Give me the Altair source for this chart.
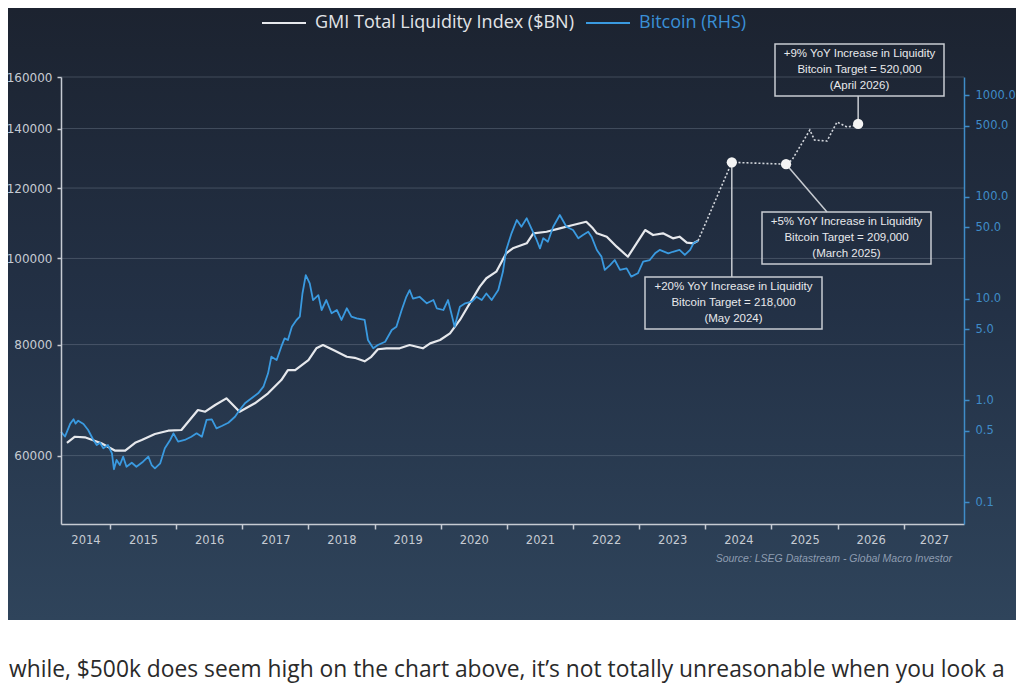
import altair as alt
import pandas as pd

# ---------------- data ----------------
series_names = ["GMI Total Liquidity Index ($BN)", "Bitcoin (RHS)"]

gmi_dates = [
    2014.35, 2014.47, 2014.62, 2014.87, 2015.08, 2015.23, 2015.38, 2015.48, 2015.68, 2015.88,
    2016.08, 2016.33, 2016.44, 2016.59, 2016.76, 2016.96, 2017.19, 2017.39, 2017.59, 2017.69,
    2017.80, 2018.00, 2018.12, 2018.22, 2018.40, 2018.58, 2018.70, 2018.85, 2018.95, 2019.05,
    2019.18, 2019.38, 2019.53, 2019.73, 2019.84, 2019.99, 2020.14, 2020.29, 2020.44, 2020.59,
    2020.69, 2020.84, 2020.99, 2021.09, 2021.30, 2021.40, 2021.60, 2021.80, 2022.00, 2022.20,
    2022.30, 2022.36, 2022.51, 2022.66, 2022.83, 2022.96, 2023.09, 2023.21, 2023.36, 2023.51,
    2023.61, 2023.72, 2023.82, 2023.89,
]
gmi_values = [
    62030, 63010, 62910, 61940, 60770, 60770, 62030, 62480, 63460, 64000,
    64120, 67520, 67230, 68410, 69600, 67230, 68710, 70510, 72980, 74890,
    74890, 76860, 79230, 79910, 78740, 77520, 77300, 76600, 77500, 79030,
    79230, 79230, 79910, 79230, 80250, 80950, 82370, 85270, 89030, 92960,
    94990, 96630, 101340, 102660, 104000, 106720, 107160, 108110, 109050, 109970,
    108110, 106720, 105790, 103090, 100450, 104000, 107630, 106250, 106720, 105350,
    105790, 104160, 104000, 104700,
]

btc_dates = [
    2014.26, 2014.32, 2014.40, 2014.45, 2014.48, 2014.52, 2014.60, 2014.67, 2014.75, 2014.80,
    2014.85, 2014.90, 2014.97, 2015.03, 2015.06, 2015.10, 2015.15, 2015.20, 2015.25, 2015.33,
    2015.40, 2015.50, 2015.58, 2015.63, 2015.68, 2015.76, 2015.83, 2015.91, 2015.96, 2016.03,
    2016.13, 2016.23, 2016.31, 2016.39, 2016.46, 2016.54, 2016.61, 2016.69, 2016.79, 2016.89,
    2016.96, 2017.04, 2017.14, 2017.24, 2017.32, 2017.39, 2017.44, 2017.52, 2017.59, 2017.64,
    2017.69, 2017.75, 2017.82, 2017.87, 2017.91, 2017.96, 2018.02, 2018.07, 2018.15, 2018.20,
    2018.27, 2018.35, 2018.43, 2018.50, 2018.58, 2018.65, 2018.73, 2018.85, 2018.90, 2018.98,
    2019.05, 2019.16, 2019.26, 2019.33, 2019.41, 2019.48, 2019.53, 2019.58, 2019.68, 2019.79,
    2019.89, 2019.94, 2020.04, 2020.11, 2020.16, 2020.21, 2020.29, 2020.37, 2020.47, 2020.54,
    2020.62, 2020.69, 2020.77, 2020.87, 2020.94, 2020.99, 2021.07, 2021.15, 2021.22, 2021.30,
    2021.37, 2021.45, 2021.50, 2021.55, 2021.62, 2021.70, 2021.80, 2021.90, 2022.00, 2022.08,
    2022.15, 2022.23, 2022.28, 2022.36, 2022.43, 2022.48, 2022.56, 2022.63, 2022.71, 2022.81,
    2022.88, 2022.98, 2023.06, 2023.16, 2023.24, 2023.31, 2023.44, 2023.51, 2023.61, 2023.69,
    2023.77, 2023.82, 2023.89,
]
# Bitcoin price in $ thousands (right-hand scale)
btc_values = [
    0.49, 0.44, 0.59, 0.65, 0.59, 0.63, 0.585, 0.51, 0.407, 0.363,
    0.383, 0.337, 0.363, 0.301, 0.21, 0.259, 0.231, 0.279, 0.222, 0.243,
    0.222, 0.249, 0.279, 0.231, 0.214, 0.24, 0.337, 0.407, 0.473, 0.392,
    0.407, 0.438, 0.473, 0.438, 0.64, 0.65, 0.53, 0.558, 0.601, 0.689,
    0.802, 0.933, 1.045, 1.17, 1.36, 1.84, 2.68, 2.49, 3.36, 4.06,
    3.91, 5.28, 6.15, 6.63, 11.2, 17.0, 14.1, 9.66, 10.8, 7.71,
    9.66, 7.16, 7.71, 6.15, 8.02, 6.63, 6.38, 6.15, 3.91, 3.24,
    3.49, 3.76, 4.9, 5.28, 7.71, 10.4, 12.1, 10.0, 10.4, 8.97,
    9.66, 8.02, 7.71, 9.66, 7.16, 5.28, 8.3, 8.97, 9.31, 10.4,
    9.66, 11.2, 9.66, 12.1, 18.3, 30.0, 43.7, 59.1, 50.8, 61.4,
    49.0, 37.6, 31.1, 39.1, 36.1, 50.8, 66.2, 50.8, 47.1, 39.1,
    42.1, 45.4, 40.5, 30.0, 25.8, 19.1, 21.3, 23.9, 19.1, 19.8,
    16.4, 17.7, 23.0, 23.9, 27.8, 30.0, 27.8, 28.8, 30.0, 26.8,
    30.0, 34.9, 37.0,
]

proj_dates = [2023.89, 2024.40, 2025.22, 2025.31, 2025.58, 2025.65, 2025.84, 2025.99, 2026.14, 2026.23, 2026.31]
proj_values = [37.0, 218, 209, 230, 453, 361, 353, 543, 485, 495, 520]

target_dates = [2024.40, 2025.22, 2026.31]
target_values = [218, 209, 520]
target_notes = [
    ["+20% YoY Increase in Liquidity", "Bitcoin Target = 218,000", "(May 2024)"],
    ["+5% YoY Increase in Liquidity", "Bitcoin Target = 209,000", "(March 2025)"],
    ["+9% YoY Increase in Liquidity", "Bitcoin Target = 520,000", "(April 2026)"],
]

gmi_ticks = [60000, 80000, 100000, 120000, 140000, 160000]
btc_ticks = [0.1, 0.5, 1, 5, 10, 50, 100, 500, 1000]
year_ticks = list(range(2015, 2028))
year_labels = list(range(2014, 2028))

source_text = "Source: LSEG Datastream - Global Macro Investor"
article_text = "while, $500k does seem high on the chart above, it\u2019s not totally unreasonable when you look a"

# ---------------- layout / style ----------------
W, H = 903, 447
X_DOMAIN = [2014.26, 2027.91]
GMI_DOMAIN = [50260, 160000]
BTC_DOMAIN = [0.0608, 1503]

AX_GRAY = "#c6cbd3"
BTC_LINE = "#3a9ae0"
BTC_AXIS = "#3f8cc8"
WHITE_LINE = "#e6e8ec"
NOTE_GRAY = "#c8ccd2"

year_label_pos = [(max(y, X_DOMAIN[0]) + min(y + 1, X_DOMAIN[1])) / 2 for y in year_labels]

# annotation boxes in plot pixels (x0, y0, x1, y1), connector end on the box
box_rects = [(584, 200, 761, 252), (701, 135, 870, 187), (714, -33, 883, 19)]
box_links = [(None, 200), (766, 135), (None, 19)]

x_scale = alt.Scale(domain=X_DOMAIN, nice=False, zero=False)
gmi_scale = alt.Scale(type="log", domain=GMI_DOMAIN, nice=False)
btc_scale = alt.Scale(type="log", domain=BTC_DOMAIN, nice=False)

one = alt.Data(values=[{}])

gmi_df = pd.DataFrame({"date": gmi_dates, "value": gmi_values, "series": series_names[0]})
btc_df = pd.DataFrame({"date": btc_dates, "value": btc_values, "series": series_names[1]})
proj_df = pd.DataFrame({"date": proj_dates, "value": proj_values})
tgt_df = pd.DataFrame({"date": target_dates, "value": target_values})
grid_df = pd.DataFrame({"v": gmi_ticks})

# background gradient
bg = alt.Chart(one).mark_rect(
    fill=alt.LinearGradient(
        gradient="linear",
        stops=[
            alt.GradientStop(color="#1c2330", offset=0),
            alt.GradientStop(color="#233146", offset=0.5),
            alt.GradientStop(color="#2f445b", offset=1),
        ],
        x1=0, x2=0, y1=0, y2=1,
    )
).encode(x=alt.value(-53), x2=alt.value(W + 52), y=alt.value(-69), y2=alt.value(543))

grid = alt.Chart(grid_df).mark_rule(color="#8893a3", opacity=0.35, strokeWidth=1).encode(
    y=alt.Y("v:Q", scale=gmi_scale, axis=None)
)

x_tick_axis = alt.Axis(
    orient="bottom", values=year_ticks, labels=False, ticks=True, tickSize=5, tickWidth=1.5,
    tickColor=AX_GRAY, domainColor=AX_GRAY, domainWidth=1.5, grid=False, title=None, zindex=1,
)
x_label_axis = alt.Axis(
    orient="bottom", values=year_label_pos, labelExpr="'' + floor(datum.value)", ticks=False,
    tickSize=0, domain=False, grid=False, title=None, labelPadding=10, labelFlush=False,
    labelOverlap=False, labelFont="DejaVu Sans", labelFontSize=11.5, labelColor=AX_GRAY, zindex=1,
)
gmi_axis = alt.Axis(
    orient="left", values=gmi_ticks, format="d", tickSize=4, tickWidth=1.5, tickColor=AX_GRAY,
    domainColor=AX_GRAY, domainWidth=1.5, labelPadding=5, labelFont="DejaVu Sans",
    labelFontSize=12, labelColor=AX_GRAY, labelOverlap=False, labelFlush=False, grid=False,
    title=None, zindex=1,
)
btc_axis = alt.Axis(
    orient="right", values=btc_ticks, format=".1f", tickSize=5, tickWidth=1.5, tickColor=BTC_AXIS,
    domainColor=BTC_AXIS, domainWidth=1.5, labelPadding=6, labelFont="DejaVu Sans",
    labelFontSize=11.5, labelColor=BTC_AXIS, labelOverlap=False, labelFlush=False, grid=False,
    title=None, zindex=1,
)

legend_common = dict(
    orient="none", title=None, symbolType="stroke", symbolSize=1936, symbolStrokeWidth=2,
    labelFont="Open Sans", labelFontSize=18, labelOffset=8, labelLimit=600, padding=0, zindex=1,
)

gmi_line = alt.Chart(gmi_df).mark_line(strokeWidth=2.2, strokeJoin="round").encode(
    x=alt.X("date:Q", scale=x_scale, axis=x_tick_axis),
    y=alt.Y("value:Q", scale=gmi_scale, axis=gmi_axis),
    color=alt.Color(
        "series:N", scale=alt.Scale(domain=[series_names[0]], range=[WHITE_LINE]),
        legend=alt.Legend(legendX=200, legendY=-77, labelColor="#e2e4e8", **legend_common),
    ),
)

btc_line = alt.Chart(btc_df).mark_line(strokeWidth=1.8, strokeJoin="round").encode(
    x=alt.X("date:Q", scale=x_scale, axis=x_label_axis),
    y=alt.Y("value:Q", scale=btc_scale, axis=btc_axis),
    stroke=alt.Stroke(
        "series:N", scale=alt.Scale(domain=[series_names[1]], range=[BTC_LINE]),
        legend=alt.Legend(legendX=524, legendY=-77, labelColor="#3a8fd6", **legend_common),
    ),
)

proj_line = alt.Chart(proj_df).mark_line(color="#d2d6dc", strokeWidth=1.6, strokeDash=[2, 2]).encode(
    x=alt.X("date:Q", scale=x_scale, axis=None),
    y=alt.Y("value:Q", scale=btc_scale, axis=None),
)

layers = [bg, grid, gmi_line, btc_line, proj_line]

for i in range(3):
    d = pd.DataFrame({"date": [target_dates[i]], "value": [target_values[i]]})
    px, py = box_links[i]
    enc = dict(
        x=alt.X("date:Q", scale=x_scale, axis=None),
        y=alt.Y("value:Q", scale=btc_scale, axis=None),
        y2=alt.value(py),
    )
    if px is not None:
        enc["x2"] = alt.value(px)
    layers.append(alt.Chart(d).mark_rule(color=NOTE_GRAY, strokeWidth=1.5).encode(**enc))

dots = alt.Chart(tgt_df).mark_circle(size=105, color="#f4f4f4", opacity=1).encode(
    x=alt.X("date:Q", scale=x_scale, axis=None),
    y=alt.Y("value:Q", scale=btc_scale, axis=None),
)
layers.append(dots)

for i in range(3):
    x0, y0, x1, y1 = box_rects[i]
    layers.append(
        alt.Chart(one).mark_rect(fill="#000000", fillOpacity=0, stroke=NOTE_GRAY, strokeWidth=1.5).encode(
            x=alt.value(x0), x2=alt.value(x1), y=alt.value(y0), y2=alt.value(y1)
        )
    )
    cx = (x0 + x1) / 2
    for j, line in enumerate(target_notes[i]):
        layers.append(
            alt.Chart(one).mark_text(
                text=line, align="center", baseline="middle", font="Liberation Sans",
                fontSize=11.5, color="#e8e9ec",
            ).encode(x=alt.value(cx), y=alt.value(y0 + 10 + 16 * j))
        )

layers.append(
    alt.Chart(one).mark_text(
        text=source_text, align="right", baseline="middle", font="Liberation Sans",
        fontStyle="italic", fontSize=10.5, color="#8e9db1",
    ).encode(x=alt.value(891), y=alt.value(482))
)
layers.append(
    alt.Chart(one).mark_text(
        text=article_text, align="left", baseline="alphabetic", font="Open Sans",
        fontSize=22.8, color="#2a2a2a",
    ).encode(x=alt.value(-52), y=alt.value(600))
)

chart = (
    alt.layer(*layers)
    .resolve_scale(y="independent")
    .resolve_axis(x="independent", y="independent")
    .properties(
        width=W, height=H,
        autosize=alt.AutoSizeParams(type="none"),
        padding={"left": 53, "top": 69, "right": 52, "bottom": 160},
        background="white",
    )
    .configure_view(stroke=None)
)

chart.save("out.html", embed_options={"renderer": "svg", "actions": False})
